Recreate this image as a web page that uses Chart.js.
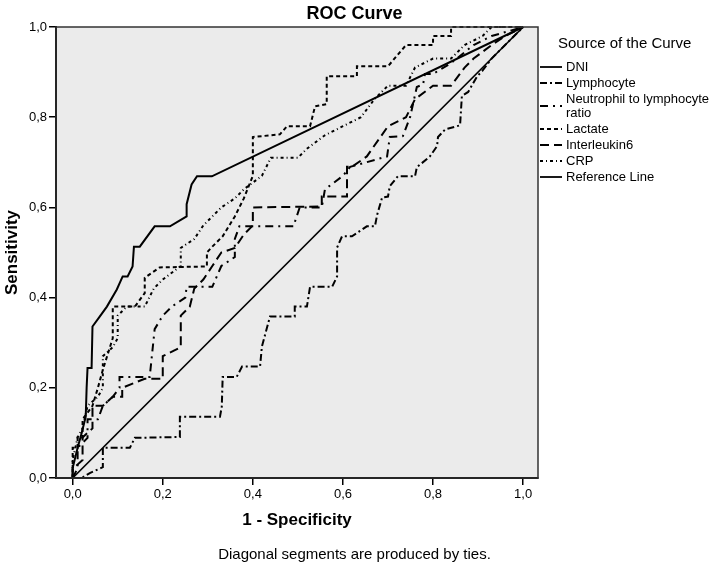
<!DOCTYPE html>
<html>
<head>
<meta charset="utf-8">
<title>ROC Curve</title>
<script src="https://cdn.jsdelivr.net/npm/chart.js@4.4.1/dist/chart.umd.min.js"></script>
<style>
  html, body { margin: 0; padding: 0; background: #fff; overflow: hidden; }
  #wrap { position: relative; width: 709px; height: 572px; font-family: "Liberation Sans", Arial, sans-serif; color: #000; }
  #rocChart { position: absolute; left: 0; top: 0; }
  #title { position: absolute; left: 0; top: 2px; width: 709px; text-align: center; font-weight: bold; font-size: 18px; line-height: 22px; }
  #note { position: absolute; left: 0; top: 545px; width: 709px; text-align: center; font-size: 15px; line-height: 18px; }
  #legendTitle { position: absolute; left: 558px; top: 34px; font-size: 15px; line-height: 18px; white-space: nowrap; }
  #legend { position: absolute; left: 540px; top: 59px; width: 172px; font-size: 13px; }
  .row { position: relative; padding: 1px 0 1px 26px; line-height: 14px; width: 146px; }
  .row svg { position: absolute; left: 0; top: 50%; margin-top: -4px; }
</style>
</head>
<body>
<div id="wrap">
  <canvas id="rocChart" width="709" height="572"></canvas>
  <div id="title">ROC Curve</div>
  <div id="legendTitle">Source of the Curve</div>
  <div id="legend"></div>
  <div id="note">Diagonal segments are produced by ties.</div>
</div>
<script>
// Curve names (legend order)
const curveNames = ['DNI', 'Lymphocyte', 'Neutrophil to lymphocyte ratio', 'Lactate', 'Interleukin6', 'CRP', 'Reference Line'];

// 1 - specificity / sensitivity pairs
const dniFpr = [0, 0, 0.011, 0.02, 0.029, 0.031, 0.033, 0.042, 0.044, 0.06, 0.076, 0.098, 0.111, 0.122, 0.133, 0.136, 0.149, 0.182, 0.216, 0.253, 0.253, 0.264, 0.276, 0.309, 1];
const dniTpr = [0, 0.022, 0.067, 0.1, 0.136, 0.2, 0.244, 0.244, 0.336, 0.358, 0.38, 0.418, 0.447, 0.447, 0.469, 0.513, 0.513, 0.558, 0.558, 0.58, 0.607, 0.651, 0.669, 0.669, 1];

const lymphFpr = [0, 0.02, 0.038, 0.067, 0.067, 0.127, 0.138, 0.238, 0.238, 0.327, 0.331, 0.333, 0.364, 0.376, 0.416, 0.42, 0.438, 0.493, 0.493, 0.52, 0.527, 0.576, 0.587, 0.587, 0.598, 0.62, 0.653, 0.671, 0.676, 0.687, 0.7, 0.704, 0.722, 0.76, 0.764, 0.793, 0.809, 0.811, 0.827, 0.86, 0.864, 0.878, 0.898, 0.909, 0.93, 0.96, 1];
const lymphTpr = [0, 0, 0.011, 0.024, 0.067, 0.067, 0.089, 0.091, 0.136, 0.136, 0.158, 0.224, 0.224, 0.247, 0.247, 0.291, 0.358, 0.358, 0.38, 0.38, 0.424, 0.424, 0.447, 0.511, 0.536, 0.536, 0.558, 0.558, 0.584, 0.622, 0.624, 0.647, 0.669, 0.669, 0.689, 0.713, 0.736, 0.756, 0.773, 0.782, 0.847, 0.856, 0.891, 0.902, 0.93, 0.96, 1];

const nlrFpr = [0, 0.011, 0.011, 0.033, 0.033, 0.056, 0.067, 0.089, 0.104, 0.104, 0.171, 0.182, 0.2, 0.22, 0.25, 0.253, 0.31, 0.33, 0.36, 0.36, 0.37, 0.49, 0.504, 0.553, 0.56, 0.6, 0.616, 0.698, 0.704, 0.733, 0.749, 0.764, 0.778, 0.782, 0.8, 0.84, 0.89, 0.93, 1];
const nlrTpr = [0, 0.022, 0.067, 0.089, 0.13, 0.13, 0.16, 0.18, 0.2, 0.224, 0.224, 0.33, 0.36, 0.38, 0.4, 0.424, 0.424, 0.47, 0.49, 0.53, 0.558, 0.558, 0.6, 0.6, 0.64, 0.67, 0.69, 0.713, 0.756, 0.758, 0.8, 0.867, 0.873, 0.896, 0.896, 0.92, 0.96, 0.98, 1];

const lactateFpr = [0, 0, 0.011, 0.011, 0.022, 0.022, 0.044, 0.056, 0.067, 0.089, 0.089, 0.138, 0.16, 0.16, 0.193, 0.298, 0.298, 0.31, 0.333, 0.36, 0.38, 0.4, 0.4, 0.46, 0.476, 0.527, 0.538, 0.564, 0.564, 0.631, 0.631, 0.7, 0.74, 0.8, 0.8, 0.84, 0.84, 1];
const lactateTpr = [0, 0.067, 0.067, 0.09, 0.09, 0.13, 0.16, 0.2, 0.24, 0.31, 0.38, 0.38, 0.41, 0.444, 0.467, 0.469, 0.5, 0.513, 0.536, 0.58, 0.62, 0.67, 0.756, 0.762, 0.78, 0.78, 0.824, 0.829, 0.891, 0.891, 0.913, 0.913, 0.96, 0.96, 0.98, 0.98, 1, 1];

const il6Fpr = [0, 0, 0.022, 0.022, 0.044, 0.044, 0.067, 0.089, 0.11, 0.11, 0.16, 0.2, 0.2, 0.24, 0.24, 0.26, 0.27, 0.29, 0.31, 0.33, 0.36, 0.38, 0.4, 0.4, 0.553, 0.553, 0.609, 0.609, 0.62, 0.653, 0.7, 0.74, 0.76, 0.8, 0.84, 0.87, 0.89, 0.93, 0.96, 1];
const il6Tpr = [0, 0.02, 0.04, 0.09, 0.11, 0.16, 0.16, 0.18, 0.18, 0.2, 0.22, 0.22, 0.27, 0.29, 0.36, 0.38, 0.42, 0.44, 0.47, 0.5, 0.51, 0.54, 0.56, 0.6, 0.602, 0.624, 0.624, 0.69, 0.69, 0.713, 0.78, 0.8, 0.84, 0.87, 0.87, 0.91, 0.93, 0.96, 0.98, 1];

const crpFpr = [0, 0, 0.011, 0.022, 0.033, 0.056, 0.067, 0.067, 0.089, 0.1, 0.1, 0.12, 0.16, 0.18, 0.2, 0.24, 0.24, 0.27, 0.29, 0.31, 0.33, 0.36, 0.38, 0.42, 0.44, 0.5, 0.52, 0.56, 0.6, 0.64, 0.67, 0.7, 0.74, 0.76, 0.8, 0.84, 0.87, 0.91, 0.93, 1];
const crpTpr = [0, 0.04, 0.09, 0.11, 0.16, 0.18, 0.2, 0.27, 0.29, 0.31, 0.36, 0.38, 0.38, 0.42, 0.44, 0.47, 0.51, 0.53, 0.56, 0.58, 0.6, 0.62, 0.64, 0.67, 0.71, 0.71, 0.73, 0.76, 0.78, 0.8, 0.84, 0.87, 0.87, 0.91, 0.93, 0.93, 0.96, 0.98, 1, 1];

const refFpr = [0, 1];
const refTpr = [0, 1];

// Tick values for both axes
const tickValues = [0, 0.2, 0.4, 0.6, 0.8, 1];

// Line styles, one per curve
const dashes = [[], [7, 3, 2, 3], [8, 5, 2, 5], [4, 3], [9, 5], [3, 3, 1, 3], []];
const widths = [2, 2, 2, 2, 2, 2, 1.7];

const toPoints = (xs, ys) => xs.map((x, i) => ({ x: x, y: ys[i] }));
const seriesX = [dniFpr, lymphFpr, nlrFpr, lactateFpr, il6Fpr, crpFpr, refFpr];
const seriesY = [dniTpr, lymphTpr, nlrTpr, lactateTpr, il6Tpr, crpTpr, refTpr];

const datasets = curveNames.map((name, i) => ({
    label: name,
    data: toPoints(seriesX[i], seriesY[i]),
    showLine: true,
    borderColor: '#000',
    borderWidth: widths[i],
    borderDash: dashes[i],
    pointRadius: 0,
    tension: 0,
    fill: false,
    clip: 4
}));

// Gray plot background and box frame
const framePlugin = {
    id: 'frame',
    beforeDraw(chart) {
        const { ctx, chartArea: a } = chart;
        ctx.save();
        ctx.fillStyle = '#ebebeb';
        ctx.fillRect(a.left, a.top, a.right - a.left, a.bottom - a.top);
        ctx.restore();
    },
    afterDraw(chart) {
        const { ctx, chartArea: a } = chart;
        ctx.save();
        ctx.strokeStyle = '#333';
        ctx.lineWidth = 1.5;
        ctx.strokeRect(a.left, a.top, a.right - a.left, a.bottom - a.top);
        ctx.restore();
    }
};

const fmt = (v) => Number(v).toFixed(1).replace('.', ',');
const fontFamily = '"Liberation Sans", Arial, sans-serif';

const ctx = document.getElementById('rocChart').getContext('2d');
const rocChart = new Chart(ctx, {
    type: 'scatter',
    data: { datasets: datasets },
    options: {
        responsive: false,
        animation: false,
        devicePixelRatio: 1,
        layout: { padding: { top: 27, right: 171, left: 0, bottom: 0 } },
        plugins: {
            legend: { display: false },
            tooltip: { enabled: false }
        },
        scales: {
            x: {
                type: 'linear',
                min: -0.037,
                max: 1.033,
                afterBuildTicks: (scale) => { scale.ticks = tickValues.map(v => ({ value: v })); },
                afterFit: (scale) => { scale.height = 94; },
                ticks: {
                    callback: fmt,
                    autoSkip: false,
                    maxRotation: 0,
                    padding: 2,
                    color: '#000',
                    font: { family: fontFamily, size: 13 }
                },
                grid: { drawOnChartArea: false, tickLength: 7, color: '#000', lineWidth: 1.5 },
                border: { color: '#000', width: 2 },
                title: {
                    display: true,
                    text: '1 - Specificity',
                    color: '#000',
                    font: { family: fontFamily, size: 17, weight: 'bold' },
                    padding: { top: 0, bottom: 41 }
                }
            },
            y: {
                type: 'linear',
                min: 0,
                max: 1,
                afterBuildTicks: (scale) => { scale.ticks = tickValues.map(v => ({ value: v })); },
                afterFit: (scale) => { scale.width = 56; },
                ticks: {
                    callback: fmt,
                    autoSkip: false,
                    padding: 2,
                    color: '#000',
                    font: { family: fontFamily, size: 13 }
                },
                grid: { drawOnChartArea: false, tickLength: 7, color: '#000', lineWidth: 1.5 },
                border: { color: '#000', width: 2 },
                title: {
                    display: true,
                    text: 'Sensitivity',
                    color: '#000',
                    font: { family: fontFamily, size: 17, weight: 'bold' },
                    padding: { top: 2, bottom: 0 }
                }
            }
        }
    },
    plugins: [framePlugin]
});

// Legend with line samples
const legendBox = document.getElementById('legend');
curveNames.forEach((name, i) => {
    const row = document.createElement('div');
    row.className = 'row';
    const dash = dashes[i].length ? dashes[i].join(' ') : 'none';
    row.innerHTML = '<svg width="24" height="8"><line x1="0" y1="4" x2="22" y2="4" stroke="#000" stroke-width="1.8" stroke-dasharray="' + dash + '"/></svg>';
    row.appendChild(document.createTextNode(name));
    legendBox.appendChild(row);
});
</script>
</body>
</html>
